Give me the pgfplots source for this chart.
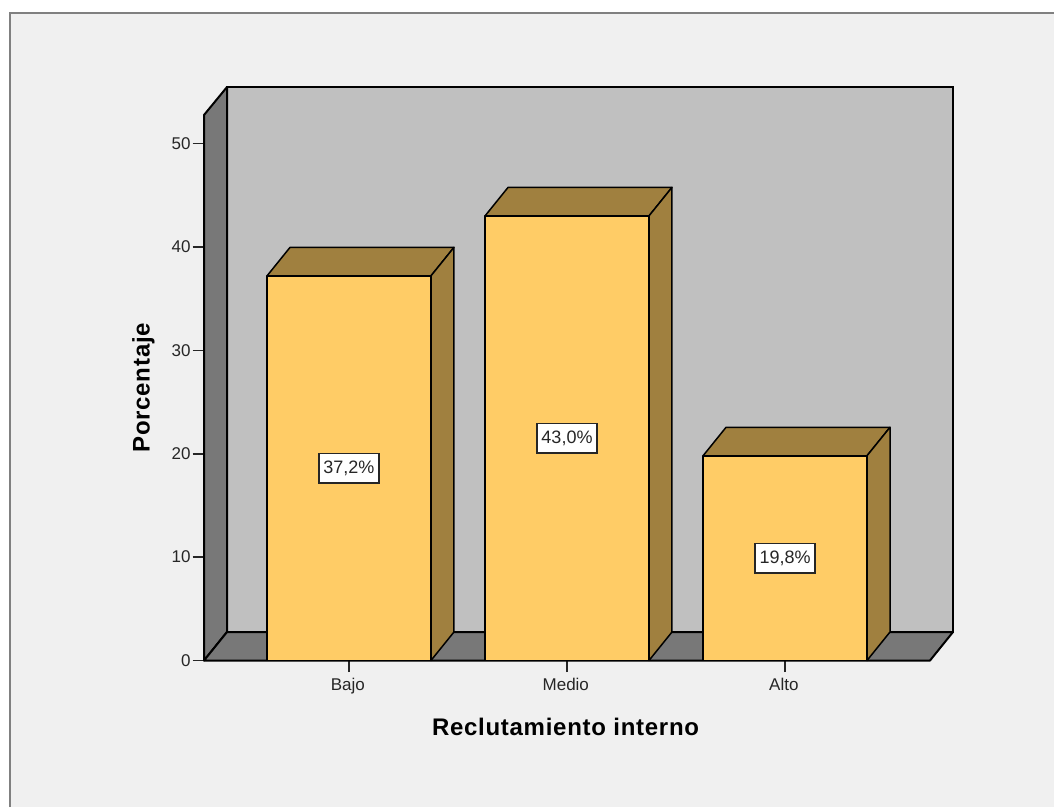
\documentclass[border=0pt]{standalone}
\usepackage{pgfplots}
\pgfplotsset{compat=1.18}
\usepackage{fontspec}
\setmainfont{Liberation Sans}
\newfontfamily\titlefont[LetterSpace=3]{Liberation Sans}
\definecolor{panel}{HTML}{F0F0F0}
\definecolor{frameline}{HTML}{808080}
\definecolor{wallback}{HTML}{C0C0C0}
\definecolor{wallside}{HTML}{787878}
\definecolor{barfront}{HTML}{FFCC66}
\definecolor{bardark}{HTML}{A0803F}
% depth of the 3D offset in axis units
\newcommand{\dx}{0.1055}
\newcommand{\dy}{2.756}
\newcommand{\hw}{0.376}
\newcommand{\lx}{-0.665}
\newcommand{\rx}{2.665}
\newcommand{\topy}{52.76}
% one bar: centre, value
\newcommand{\solidbar}[2]{%
  \addplot[draw=black,line width=1.5pt,fill=bardark,line join=round] coordinates
    {(#1-\hw,#2) (#1-\hw+\dx,#2+\dy) (#1+\hw+\dx,#2+\dy) (#1+\hw,#2)} --cycle;
  \addplot[draw=black,line width=1.5pt,fill=bardark,line join=round] coordinates
    {(#1+\hw,0) (#1+\hw+\dx,\dy) (#1+\hw+\dx,#2+\dy) (#1+\hw,#2)} --cycle;
  \addplot[draw=black,line width=1.5pt,fill=barfront,line join=round] coordinates
    {(#1-\hw,0) (#1-\hw,#2) (#1+\hw,#2) (#1+\hw,0)} --cycle;
}
\tikzset{valuebox/.style={fill=white,draw=black!85,line width=1.4pt,inner sep=0pt,
  minimum width=60pt,minimum height=29.5pt,text=black!85,font=\fontsize{18}{20}\selectfont}}
\begin{document}
\begin{tikzpicture}[x=1pt,y=1pt]
\useasboundingbox (0,0) rectangle (1054,807);
% page and panel
\path[fill=white] (0,0) rectangle (1054,807);
\path[fill=panel] (10,0) rectangle (1054,794);
\draw[frameline,line width=2pt] (10,0) -- (10,794) -- (1054,794);
\begin{axis}[
  at={(204pt,146.5pt)},anchor=south west,
  scale only axis,width=726pt,height=545.5pt,
  xmin=\lx,xmax=\rx,ymin=0,ymax=\topy,
  clip=false,
  axis x line=bottom,axis y line=left,
  axis line style={-,black,line width=1.8pt},
  tick align=outside,
  major tick length=11.5pt,
  tick style={black!85,line width=1.6pt},
  xtick={0,1,2},
  xticklabels={Bajo,Medio,Alto},
  ytick={0,10,20,30,40,50},
  /pgf/number format/assume math mode=true,
  tick label style={font=\fontsize{17}{19}\selectfont,text=black!85},
  xticklabel style={yshift=-3pt,xshift=-1.2pt},
  yticklabel style={xshift=1.5pt},
  xlabel={Reclutamiento interno},
  ylabel={Porcentaje},
  label style={font=\titlefont\bfseries\fontsize{24}{28}\selectfont},
  xlabel style={at={(axis description cs:0.498,-0.122)},anchor=center},
  ylabel style={at={(axis description cs:-0.0835,0.5)},anchor=center},
]
% back wall, side wall, floor
\addplot[draw=black,line width=2pt,fill=wallback] coordinates
  {(\lx+\dx,\dy) (\lx+\dx,\topy+\dy-0.05) (\rx+\dx,\topy+\dy-0.05) (\rx+\dx,\dy)} --cycle;
\addplot[draw=black,line width=2pt,fill=wallside,line join=round] coordinates
  {(\lx,0) (\lx,\topy) (\lx+\dx,\topy+\dy-0.05) (\lx+\dx,\dy)} --cycle;
\addplot[draw=black,line width=2pt,fill=wallside,line join=round] coordinates
  {(\lx,0) (\lx+\dx,\dy) (\rx+\dx,\dy) (\rx,0)} --cycle;
% bars
\solidbar{0}{37.2}
\solidbar{1}{43.0}
\solidbar{2}{19.8}
% value labels
\node[valuebox] at (axis cs:0,18.6) {37,2\%};
\node[valuebox] at (axis cs:1,21.5) {43,0\%};
\node[valuebox] at (axis cs:2,9.9) {19,8\%};
\end{axis}
\end{tikzpicture}
\end{document}
